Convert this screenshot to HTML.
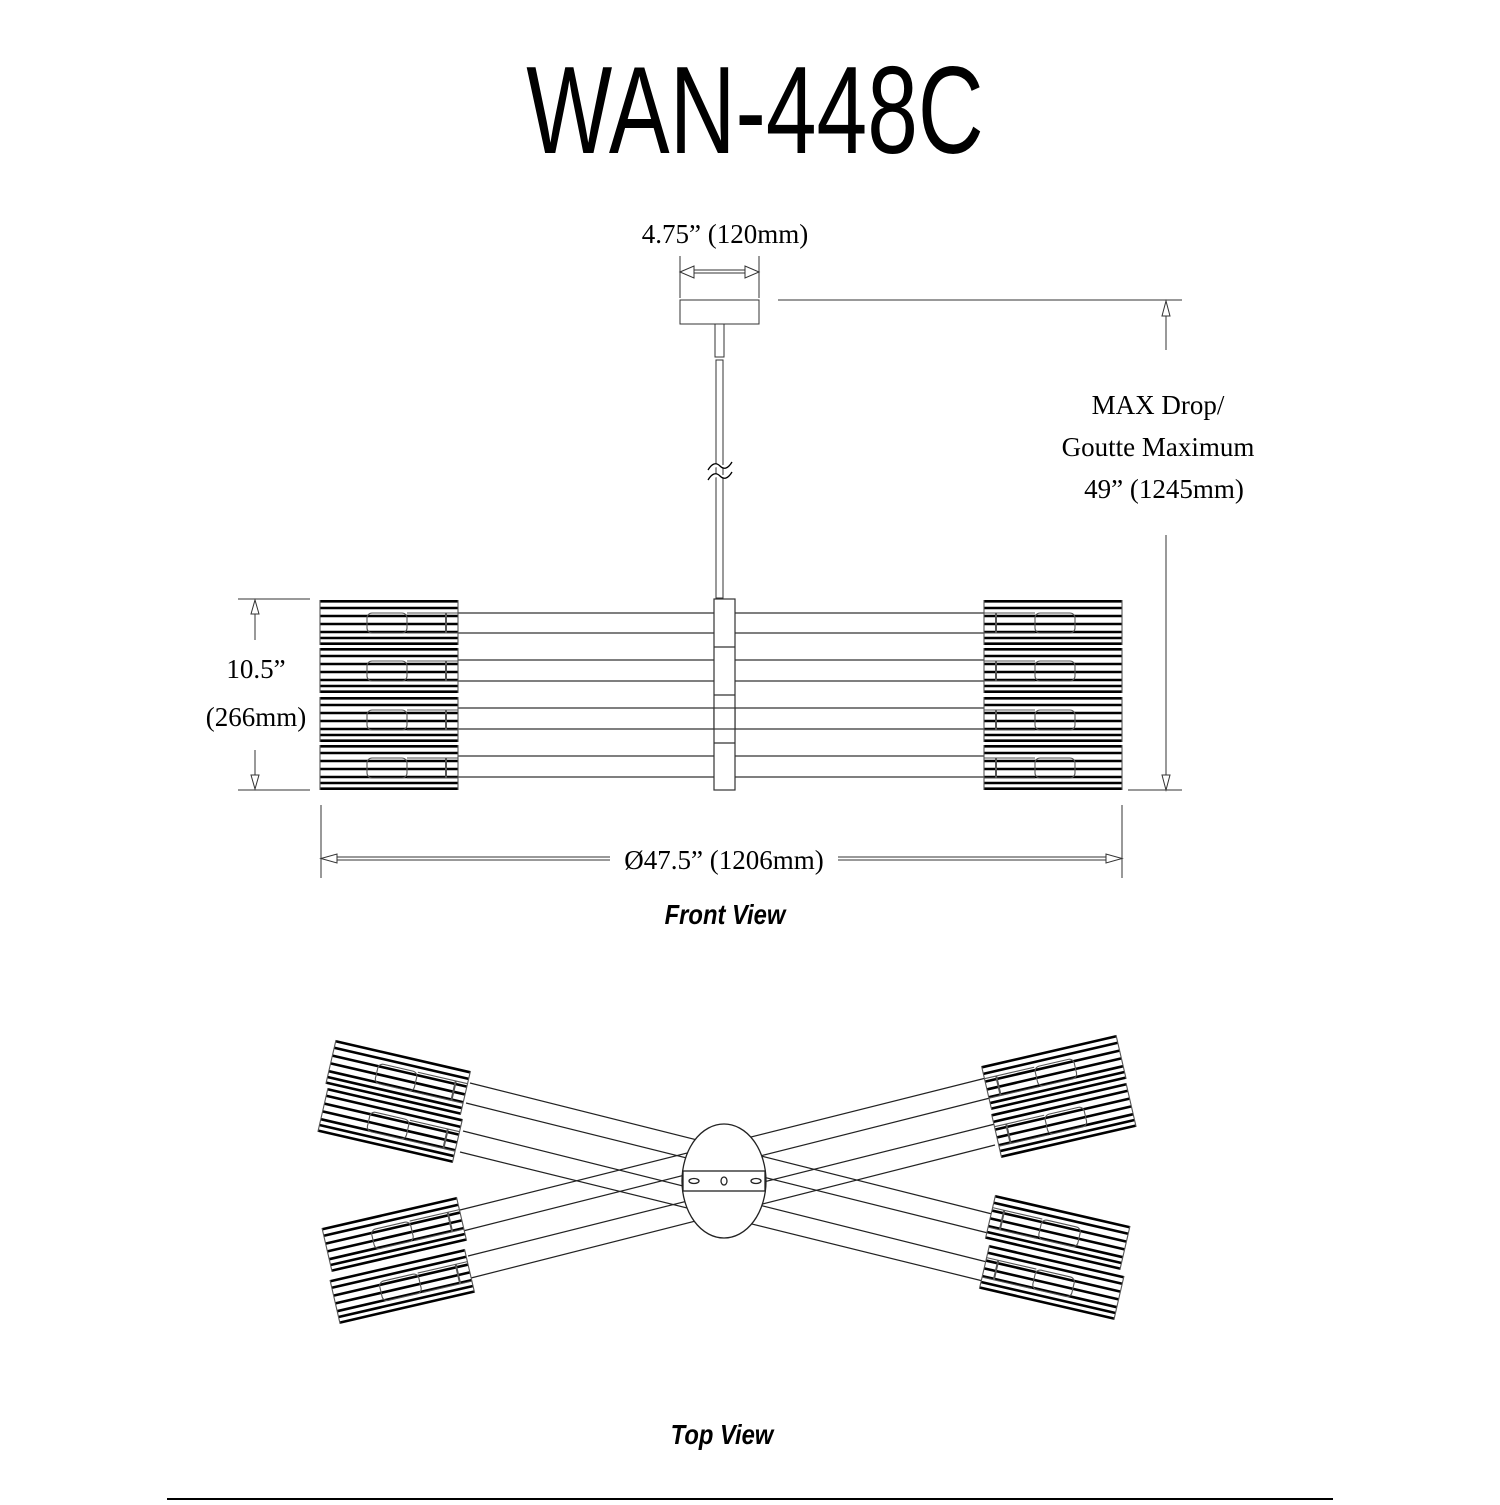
<!DOCTYPE html>
<html><head><meta charset="utf-8"><style>
body{margin:0;background:#fff}
svg text{font-family:"Liberation Serif",serif}
</style></head><body>
<svg width="1500" height="1500" viewBox="0 0 1500 1500" xmlns="http://www.w3.org/2000/svg">
<defs>
<g id="shade">
  <rect x="0" y="0" width="138" height="45" fill="#fff" stroke="none"/>
  <g stroke="#000" stroke-width="2.6">
    <line x1="0" y1="1.3" x2="138" y2="1.3"/><line x1="0" y1="8" x2="138" y2="8"/>
    <line x1="0" y1="16" x2="138" y2="16"/><line x1="0" y1="24" x2="138" y2="24"/>
    <line x1="0" y1="32" x2="138" y2="32"/><line x1="0" y1="38" x2="138" y2="38"/>
    <line x1="0" y1="43.7" x2="138" y2="43.7"/>
  </g>
  <g stroke="#555" stroke-width="1.1" fill="none">
    <line x1="0" y1="0" x2="0" y2="45"/><line x1="138" y1="0" x2="138" y2="45"/>
    <rect x="47" y="13" width="40" height="20" rx="5"/>
    <line x1="87" y1="13" x2="138" y2="13"/><line x1="87" y1="33" x2="138" y2="33"/>
    <line x1="126" y1="13" x2="126" y2="33" stroke-width="2"/>
  </g>
</g>
</defs>
<text x="755" y="153" font-size="124" text-anchor="middle" transform="translate(755 0) scale(0.735 1) translate(-755 0)" style="font-family:'Liberation Sans',sans-serif">WAN-448C</text>

<text x="725" y="243" font-size="27" text-anchor="middle">4.75” (120mm)</text>
<g stroke="#333" stroke-width="1" fill="#fff">
<line x1="680" y1="256" x2="680" y2="298"/><line x1="759" y1="256" x2="759" y2="298"/>
<line x1="690" y1="270" x2="750" y2="270"/><line x1="690" y1="273" x2="750" y2="273"/>
<polygon points="680,272 694,266 694,278"/><polygon points="759,272 745,266 745,278"/>
<rect x="680" y="300" width="79" height="24"/>
<line x1="778" y1="300" x2="1182" y2="300"/>
<rect x="715" y="324" width="9" height="33"/>
<rect x="716" y="360" width="7" height="238"/>
<line x1="1166" y1="310" x2="1166" y2="350"/>
<polygon points="1166,301 1162,316 1170,316"/>
<line x1="1166" y1="535" x2="1166" y2="780"/>
<polygon points="1166,790 1162,775 1170,775"/>
<line x1="1128" y1="790" x2="1182" y2="790"/>
</g>
<path d="M708 470 q6 -10 12 -4 q6 6 12 -4 M708 480 q6 -10 12 -4 q6 6 12 -4" stroke="#000" fill="#fff" stroke-width="1.3"/>
<text x="1158" y="414" font-size="27" text-anchor="middle">MAX Drop/</text>
<text x="1158" y="456" font-size="27" text-anchor="middle">Goutte Maximum</text>
<text x="1164" y="498" font-size="27" text-anchor="middle">49” (1245mm)</text>

<g stroke="#333" stroke-width="1.2" fill="#fff">
<line x1="458" y1="613" x2="985" y2="613"/><line x1="458" y1="633" x2="985" y2="633"/>
<line x1="458" y1="660" x2="985" y2="660"/><line x1="458" y1="681" x2="985" y2="681"/>
<line x1="458" y1="708" x2="985" y2="708"/><line x1="458" y1="729" x2="985" y2="729"/>
<line x1="458" y1="756" x2="985" y2="756"/><line x1="458" y1="777" x2="985" y2="777"/>
<rect x="714" y="599" width="21" height="191"/>
<line x1="714" y1="647" x2="735" y2="647"/><line x1="714" y1="695" x2="735" y2="695"/><line x1="714" y1="743" x2="735" y2="743"/>
<rect x="714" y="708" width="21" height="21" fill="#fff"/>
</g>
<use href="#shade" x="320" y="600"/><use href="#shade" x="320" y="648"/><use href="#shade" x="320" y="697"/><use href="#shade" x="320" y="745"/>
<g transform="translate(1442 0) scale(-1 1)">
<use href="#shade" x="320" y="600"/><use href="#shade" x="320" y="648"/><use href="#shade" x="320" y="697"/><use href="#shade" x="320" y="745"/>
</g>
<g stroke="#333" stroke-width="1" fill="#fff">
<line x1="238" y1="599" x2="310" y2="599"/><line x1="238" y1="790" x2="310" y2="790"/>
<line x1="255" y1="610" x2="255" y2="640"/><polygon points="255,600 251,614 259,614"/>
<line x1="255" y1="750" x2="255" y2="780"/><polygon points="255,789 251,775 259,775"/>
<line x1="321" y1="805" x2="321" y2="878"/><line x1="1122" y1="805" x2="1122" y2="878"/>
<line x1="335" y1="857" x2="610" y2="857"/><line x1="335" y1="860" x2="610" y2="860"/>
<line x1="838" y1="857" x2="1108" y2="857"/><line x1="838" y1="860" x2="1108" y2="860"/>
<polygon points="321,858.5 337,854 337,863"/><polygon points="1122,858.5 1106,854 1106,863"/>
</g>
<text x="256" y="678" font-size="27" text-anchor="middle">10.5”</text>
<text x="256" y="726" font-size="27" text-anchor="middle">(266mm)</text>
<text x="724" y="869" font-size="27" text-anchor="middle">Ø47.5” (1206mm)</text>
<text x="725" y="924" font-size="28" font-weight="bold" font-style="italic" text-anchor="middle" style="font-family:'Liberation Sans',sans-serif" transform="translate(725 0) scale(0.85 1) translate(-725 0)">Front View</text>

<g stroke="#222" stroke-width="1.2" fill="none">
<line x1="470" y1="1083" x2="1000" y2="1216"/><line x1="466" y1="1103" x2="1000" y2="1236"/>
<line x1="463" y1="1131" x2="995" y2="1264"/><line x1="460" y1="1152" x2="995" y2="1284"/>
<line x1="460" y1="1210" x2="990" y2="1077"/><line x1="463" y1="1231" x2="990" y2="1098"/>
<line x1="468" y1="1256" x2="995" y2="1124"/><line x1="471" y1="1278" x2="995" y2="1145"/>
</g>
<use href="#shade" transform="translate(336 1040) rotate(13)"/>
<use href="#shade" transform="translate(328 1088) rotate(13)"/>
<use href="#shade" transform="translate(322 1228) rotate(-13)"/>
<use href="#shade" transform="translate(330 1280) rotate(-13)"/>
<g transform="translate(1452 0) scale(-1 1)">
<use href="#shade" transform="translate(336 1035) rotate(13)"/>
<use href="#shade" transform="translate(326 1083) rotate(13)"/>
<use href="#shade" transform="translate(322 1226) rotate(-13)"/>
<use href="#shade" transform="translate(328 1276) rotate(-13)"/>
</g>
<g stroke="#222" stroke-width="1.3" fill="#fff">
<ellipse cx="724" cy="1181" rx="42" ry="57"/>
<rect x="683" y="1171" width="82" height="20"/>
<ellipse cx="694" cy="1181" rx="5" ry="2.5"/><ellipse cx="756" cy="1181" rx="5" ry="2.5"/>
<ellipse cx="724" cy="1181" rx="3" ry="4"/>
</g>
<text x="722" y="1444" font-size="28" font-weight="bold" font-style="italic" text-anchor="middle" style="font-family:'Liberation Sans',sans-serif" transform="translate(722 0) scale(0.85 1) translate(-722 0)">Top View</text>
<line x1="167" y1="1499" x2="1333" y2="1499" stroke="#000" stroke-width="2"/>
</svg>
</body></html>
